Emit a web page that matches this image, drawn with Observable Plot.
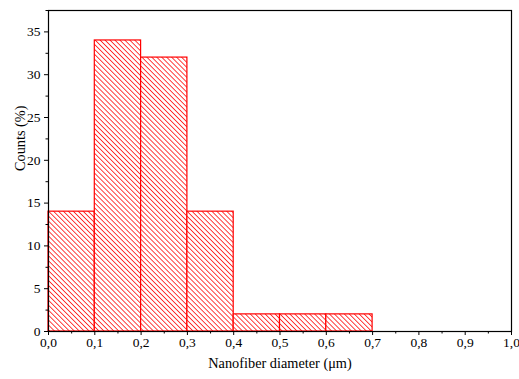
<!DOCTYPE html>
<html>
<head>
<meta charset="utf-8">
<script src="https://cdn.jsdelivr.net/npm/d3@7"></script>
<script src="https://cdn.jsdelivr.net/npm/@observablehq/plot@0.6"></script>
<style>
  body { margin: 0; background: #fff; }
  #chart svg { display: block; }
</style>
</head>
<body>
<div id="chart"></div>
<script>
const binStart = [0.0, 0.1, 0.2, 0.3, 0.4, 0.5, 0.6];
const binEnd   = [0.1, 0.2, 0.3, 0.4, 0.5, 0.6, 0.7];
const counts   = [14, 34, 32, 14, 2, 2, 2];
const xMajorTicks = [0, 0.1, 0.2, 0.3, 0.4, 0.5, 0.6, 0.7, 0.8, 0.9, 1.0];
const xMinorTicks = [0.05, 0.15, 0.25, 0.35, 0.45, 0.55, 0.65, 0.75, 0.85, 0.95];
const yMajorTicks = [0, 5, 10, 15, 20, 25, 30, 35];
const yMinorTicks = [2.5, 7.5, 12.5, 17.5, 22.5, 27.5, 32.5, 37.5];
const xTitle = "Nanofiber diameter (μm)";
const yTitle = "Counts (%)";

const data = binStart.map((s, i) => ({x1: s, x2: binEnd[i], y: counts[i]}));
const fmt = d => d.toFixed(1).replace(".", ",");
const serif = "Liberation Serif";

const chart = Plot.plot({
  width: 519,
  height: 379,
  marginLeft: 48,
  marginRight: 8,
  marginTop: 10,
  marginBottom: 48,
  style: {fontFamily: serif, fontSize: "13px", color: "#000", background: "#fff"},
  x: {domain: [0, 1]},
  y: {domain: [0, 37.5]},
  marks: [
    Plot.rectY(data, {x1: "x1", x2: "x2", y: "y", fill: "url(#hatch)", stroke: "#ff0000", strokeWidth: 1.2}),
    Plot.frame({stroke: "#000", strokeWidth: 1.2}),
    Plot.axisX({ticks: xMajorTicks, tickFormat: fmt, tickSize: 4, tickPadding: 2, fontSize: 13.5, label: null}),
    Plot.axisX({ticks: xMinorTicks, tickSize: 2.5, tickFormat: () => "", label: null}),
    Plot.axisY({ticks: yMajorTicks, tickSize: 4, tickPadding: 4, fontSize: 13.5, label: null}),
    Plot.axisY({ticks: yMinorTicks, tickSize: 2.5, tickFormat: () => "", label: null}),
    Plot.text([xTitle], {frameAnchor: "bottom", dy: 36, fontSize: 14.3, fill: "#000"}),
    Plot.text([yTitle], {frameAnchor: "left", dx: -28, rotate: -90, fontSize: 14.3, fill: "#000"})
  ]
});

// hatch pattern
const ns = "http://www.w3.org/2000/svg";
const defs = document.createElementNS(ns, "defs");
const pat = document.createElementNS(ns, "pattern");
pat.setAttribute("id", "hatch");
pat.setAttribute("patternUnits", "userSpaceOnUse");
pat.setAttribute("width", "3.5");
pat.setAttribute("height", "3.5");
pat.setAttribute("patternTransform", "rotate(-45)");
const bg = document.createElementNS(ns, "rect");
bg.setAttribute("width", "3.5"); bg.setAttribute("height", "3.5"); bg.setAttribute("fill", "#fff");
const ln = document.createElementNS(ns, "line");
ln.setAttribute("x1", "0"); ln.setAttribute("y1", "0");
ln.setAttribute("x2", "0"); ln.setAttribute("y2", "3.5");
ln.setAttribute("stroke", "#ff0000"); ln.setAttribute("stroke-width", "1.5");
pat.appendChild(bg); pat.appendChild(ln);
defs.appendChild(pat);
chart.insertBefore(defs, chart.firstChild);

document.getElementById("chart").appendChild(chart);
</script>
</body>
</html>
